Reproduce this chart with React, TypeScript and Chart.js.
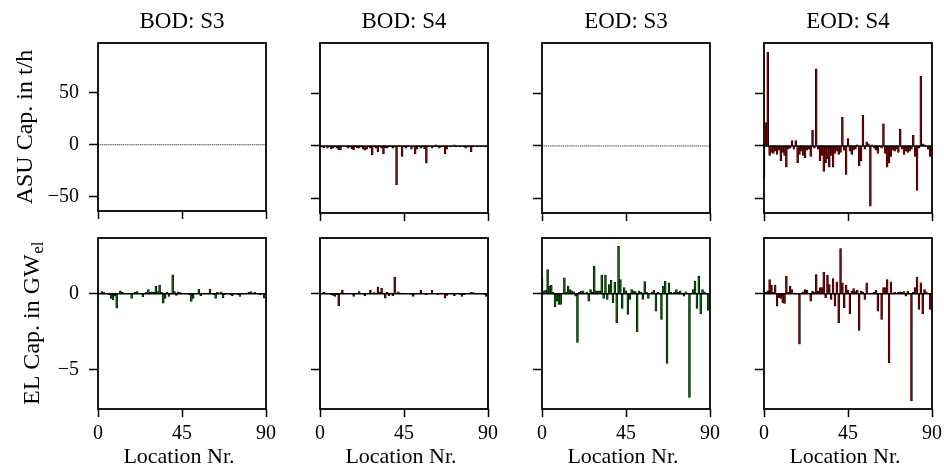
import React, { useEffect, useRef } from 'react';
import { Chart, registerables } from 'chart.js';

Chart.register(...registerables);

const FONT = '"Liberation Serif", "Times New Roman", Times, serif';

// ---------- data ----------
const locations = [
  0, 1, 2, 3, 4, 5, 6, 7, 8, 9, 10, 11, 12, 13, 14, 15, 16, 17, 18, 19,
  20, 21, 22, 23, 24, 25, 26, 27, 28, 29, 30, 31, 32, 33, 34, 35, 36, 37, 38, 39,
  40, 41, 42, 43, 44, 45, 46, 47, 48, 49, 50, 51, 52, 53, 54, 55, 56, 57, 58, 59,
  60, 61, 62, 63, 64, 65, 66, 67, 68, 69, 70, 71, 72, 73, 74, 75, 76, 77, 78, 79,
  80, 81, 82, 83, 84, 85, 86, 87, 88, 89,
];

const columnTitles = ['BOD: S3', 'BOD: S4', 'EOD: S3', 'EOD: S4'];
const asuAxisTitle = 'ASU Cap. in t/h';
const elAxisTitle = 'EL Cap. in GW';
const elAxisSubscript = 'el';
const xAxisTitle = 'Location Nr.';

const xTickValues = [0, 45, 90];
const asuTickValues = [-50, 0, 50];
const elTickValues = [-5, 0];
const xRange = [0, 90];
const asuRange = [-63.5, 97.5];
const elRange = [-7.6, 3.68];

const asuBodS3 = [
  0, 0, 0, 0, 0, 0, 0, 0, 0, 0, 0, 0, 0, 0, 0, 0, 0, 0, 0, 0,
  0, 0, 0, 0, 0, 0, 0, 0, 0, 0, 0, 0, 0, 0, 0, 0, 0, 0, 0, 0,
  0, 0, 0, 0, 0, 0, 0, 0, 0, 0, 0, 0, 0, 0, 0, 0, 0, 0, 0, 0,
  0, 0, 0, 0, 0, 0, 0, 0, 0, 0, 0, 0, 0, 0, 0, 0, 0, 0, 0, 0,
  0, 0, 0, 0, 0, 0, 0, 0, 0, 0,
];
const asuBodS4 = [
  -1, -1, -1.5, 0, -2, -1, -3, -2, -1, -2,
  -3.5, -3.8, -1, 0, -1, -2, -1, -2.5, -3.8, -1,
  -1.5, -2, -1, -3, -4, -3, -1, -2, -8.5, -1,
  -2, -5.4, -1, -2, -7.6, -1.5, -2, -1, -1, -2,
  -1, -37, -1, 0, -10, -1, -2, -1, 0, -3,
  -1, -7.6, -3, -1, -2, -1, -2.5, -16.4, -1, 0,
  -2, -1, 1, -1, -2, -1, -1, -7.6, -3, 0,
  -1, 0, 1, -1, 0, -1, 0, -1, -2, -1,
  -1, -5.4, -1, 0, -1, 0, -1, 0, -1, -1,
];
const asuEodS3 = [
  0, 0, 0, 0, 0, 0, 0, 0, 0, 0, 0, 0, 0, 0, 0, 0, 0, 0, 0, 0,
  0, 0, 0, 0, 0, 0, 0, 0, 0, 0, 0, 0, 0, 0, 0, 0, 0, 0, 0, 0,
  0, 0, 0, 0, 0, 0, 0, 0, 0, 0, 0, 0, 0, 0, 0, 0, 0, 0, 0, 0,
  0, 0, 0, 0, 0, 0, 0, 0, 0, 0, 0, 0, 0, 0, 0, 0, 0, 0, 0, 0,
  0, 0, 0, 0, 0, 0, 0, 0, 0, 0,
];
const asuEodS4 = [
  -29, 22, 89, -9, -6, -7, -5, -8, -4, -14,
  -6, -9, -20, -3, -2, 5, -3, 5, -16, -8,
  -5, -9, -11, -4, -3, -10, 15, -2, 73, -3,
  -14, -9, -24, -16, -12, -20, -9, -20, -7, -5,
  -8, -6, 27, -4, -27, 7, -5, -8, -4, -3,
  1, -19, -14, 29, -3, 4, 2, -57, 1, -2,
  -4, -7, -1, -2, 21, -7, -20, -16, -10, -4,
  -5, -3, -6, 16, -3, -8, -5, -6, -5, -3,
  10, -10, -42, -2, 66, 2, 1, -1, -3, -10,
];

const elBodS3 = [
  0, 0.05, 0.15, 0.1, 0.05, 0, -0.05, -0.3, -0.4, -0.15,
  -0.95, 0.05, 0.2, 0.1, 0.05, 0.05, 0.03, 0, -0.3, 0.05,
  0.1, 0.15, 0.05, 0, -0.2, 0.05, 0.1, 0.28, 0.1, 0.12,
  0.1, 0.5, 0.15, 0.58, 0.1, -0.62, -0.3, 0.1, -0.18, 0.05,
  1.25, 0.15, -0.1, 0.12, 0.08, 0.05, 0.03, 0, 0.02, -0.05,
  -0.5, -0.3, 0.05, 0.02, 0.3, -0.13, 0.02, 0.05, 0, 0.02,
  0.3, 0.05, -0.05, -0.3, 0.1, 0.05, 0.13, -0.25, -0.05, 0.02,
  0, -0.05, -0.13, 0, 0.02, -0.05, -0.18, 0, 0.02, 0.05,
  0.05, 0.1, 0.15, 0.05, 0.09, 0.03, 0, -0.05, 0.02, -0.28,
];
const elBodS4 = [
  0, 0.05, 0.1, 0.05, 0.03, 0, -0.05, -0.1, -0.17, -0.05,
  -0.8, 0.05, 0.22, 0.05, 0.03, 0.05, 0, 0.02, -0.17, 0.03,
  0.05, 0.15, 0.03, 0, -0.13, 0.03, 0.05, 0.22, 0.05, 0.08,
  0.05, 0.44, 0.1, 0.37, 0.05, -0.28, 0.1, -0.13, 0.05, -0.13,
  1.1, 0.05, 0.13, 0.05, 0.03, 0.05, 0, 0.02, 0, -0.03,
  -0.17, 0.02, 0.03, 0, 0.22, 0.03, 0.02, -0.05, 0, 0.02,
  0.22, 0.03, 0, -0.03, 0.02, 0.05, 0.02, -0.28, -0.1, 0.02,
  0, 0.02, -0.13, 0, 0.02, -0.03, -0.17, -0.05, 0.02, 0.03,
  0.05, 0.1, 0.08, 0.03, 0.05, 0.03, 0.02, 0, -0.03, -0.17,
];
const elEodS3 = [
  1.1, 0.2, 0.25, 1.6, 0.5, 0.55, 0.1, -0.86, -0.48, -0.7,
  -0.7, 0.05, 1.05, 0.1, 0.5, 0.28, 0.2, 0.13, -0.15, -3.2,
  0.1, 0.17, 0.2, 0.05, 0.1, -0.48, 0.28, 0.1, 1.82, 0.2,
  0.17, 0.2, 1.23, -0.3, 1.23, -0.37, 0.6, 0.88, -0.6, 0.77,
  -1.9, 3.14, 0.94, -0.97, 0.4, 0.2, -1.36, -0.37, 0.28, 0.2,
  0.15, -2.52, 0.17, 0.1, -0.37, 0.8, 0.1, -0.3, 0.05, 0.13,
  0.22, -1.14, 0.1, 0.05, -1.69, 0.5, 0.83, -4.6, 0.72, 0.1,
  0.05, 0.1, 0.28, 0.1, 0.2, 0.05, -0.15, 0.13, 0.05, -6.84,
  0.05, 0.28, 0.83, -0.97, 1.16, -1.32, 0.28, 0.13, 0.05, -1.1,
];
const elEodS4 = [
  0.05, 0.1, 0.2, 0.94, 0.57, 0.1, 0.57, -0.81, -0.26, -0.3,
  -0.59, -0.64, 1.16, 0.1, 0.5, 0.28, 0.05, 0.05, 0.02, -3.33,
  0.05, 0.13, 0.28, 0.22, 0.05, -0.48, 0.17, 0.1, 1.27, 0.17,
  0.4, 0.4, 1.43, -0.26, 1.23, 0.61, -0.37, 1.01, -0.81, 0.79,
  -1.91, 2.98, 0.72, -0.92, 0.57, 0.22, -1.32, 0.17, 0.35, 0.15,
  0.24, -2.41, 0.17, 0.13, -0.37, 0.72, 0.05, 0.02, 0.05, 0.1,
  0.22, -1.14, 0.05, -1.69, 0.4, 0.4, 0.94, -4.54, 0.79, 0.05,
  0.1, 0.05, 0.1, 0.13, 0.1, 0.15, -0.15, 0.17, 0.05, -7.06,
  0.1, 0.4, 1.1, -1.03, 0.72, -1.32, 0.28, 0.13, 0.05, -1.03,
];

const RED = '#8b0000';
const GREEN = '#006400';

const asuSeries = [asuBodS3, asuBodS4, asuEodS3, asuEodS4];
const elSeries = [elBodS3, elBodS4, elEodS3, elEodS4];
const columnColors = [GREEN, RED, GREEN, RED];

// ---------- layout ----------
const COL_LEFT = [98, 320, 542, 764];
const PANEL_W = 168;
const ROW_TOP = [43, 238];
const ROW_H = [170, 171];
const YW = 50;

const fmt = (v: number) => (v < 0 ? '\u2212' + Math.abs(v) : String(v));

function makeDecor(row: number, col: number, allZero: boolean) {
  return {
    id: 'decor' + row + col,
    afterDatasetsDraw(chart: any) {
      const { ctx, chartArea: a, scales } = chart;
      const y0 = scales.y.getPixelForValue(0);
      ctx.save();
      ctx.beginPath();
      ctx.strokeStyle = allZero ? '#333' : '#000';
      ctx.lineWidth = allZero ? 0.9 : 1.5;
      ctx.setLineDash(allZero ? [1.3, 0.6] : []);
      ctx.moveTo(a.left, y0);
      ctx.lineTo(a.right, y0);
      ctx.stroke();
      ctx.restore();
    },
    afterDraw(chart: any) {
      const { ctx, chartArea: a } = chart;
      ctx.save();
      ctx.strokeStyle = '#000';
      ctx.lineWidth = 1.8;
      ctx.strokeRect(a.left, a.top, a.right - a.left, a.bottom - a.top);
      ctx.fillStyle = '#000';
      ctx.textBaseline = 'alphabetic';
      ctx.textAlign = 'center';
      if (row === 0) {
        ctx.font = `23px ${FONT}`;
        ctx.fillText(columnTitles[col], (a.left + a.right) / 2, a.top - 15);
      } else {
        ctx.font = `22px ${FONT}`;
        ctx.fillText(xAxisTitle, (a.left + a.right) / 2 - 3, a.bottom + 54);
      }
      if (col === 0) {
        const cy = (a.top + a.bottom) / 2;
        if (row === 0) {
          ctx.font = `24px ${FONT}`;
          ctx.translate(a.left - 66, cy);
          ctx.rotate(-Math.PI / 2);
          ctx.textAlign = 'center';
          ctx.fillText(asuAxisTitle, 0, 0);
        } else {
          ctx.translate(a.left - 59.5, cy);
          ctx.rotate(-Math.PI / 2);
          ctx.textAlign = 'left';
          ctx.font = `24px ${FONT}`;
          const wMain = ctx.measureText(elAxisTitle).width;
          ctx.font = `17px ${FONT}`;
          const wSub = ctx.measureText(elAxisSubscript).width;
          const start = -(wMain + wSub) / 2;
          ctx.font = `24px ${FONT}`;
          ctx.fillText(elAxisTitle, start, 0);
          ctx.font = `17px ${FONT}`;
          ctx.fillText(elAxisSubscript, start + wMain + 0.5, 4);
        }
      }
      ctx.restore();
    },
  };
}

function Panel({ row, col }: { row: number; col: number }) {
  const ref = useRef<HTMLCanvasElement>(null);
  const ax = COL_LEFT[col];
  const ay = ROW_TOP[row];
  const ah = ROW_H[row];
  const cx = col === 0 ? 0 : ax - 60;
  const cw = ax + PANEL_W + 24 - cx;
  const cy = row === 0 ? 0 : ay - 26;
  const ch = row === 0 ? ay + ah + 20 : 475 - cy;
  const XH = row === 0 ? 10 : 40;

  useEffect(() => {
    const values = row === 0 ? asuSeries[col] : elSeries[col];
    const allZero = values.every((v) => v === 0);
    const yRange = row === 0 ? asuRange : elRange;
    const yTicks = row === 0 ? asuTickValues : elTickValues;
    const chart = new Chart(ref.current as HTMLCanvasElement, {
      type: 'bar',
      data: {
        datasets: [
          {
            data: values.map((v, i) => ({ x: locations[i], y: v })),
            backgroundColor: columnColors[col],
            borderColor: '#000',
            borderWidth: 0.6,
            borderSkipped: false,
            inflateAmount: 0.35,
            barPercentage: 1.0,
            categoryPercentage: 1.0,
          } as any,
        ],
      },
      options: {
        responsive: false,
        animation: false,
        events: [],
        layout: {
          padding: {
            left: ax - cx - YW,
            top: ay - cy,
            right: 24,
            bottom: ch - (ay - cy) - ah - XH,
          },
        },
        plugins: {
          legend: { display: false },
          tooltip: { enabled: false },
          title: { display: false },
        },
        scales: {
          x: {
            type: 'linear',
            min: xRange[0],
            max: xRange[1],
            offset: false,
            grid: {
              offset: false,
              drawOnChartArea: false,
              drawTicks: true,
              tickLength: 8,
              tickWidth: 1.5,
              tickColor: '#000',
            },
            border: { display: false },
            ticks: {
              display: row === 1,
              autoSkip: false,
              maxRotation: 0,
              color: '#000',
              padding: 5,
              font: { family: FONT, size: 20 },
              callback: (v: any) => fmt(Number(v)),
            },
            afterBuildTicks: (s: any) => {
              s.ticks = xTickValues.map((v) => ({ value: v }));
            },
            afterFit: (s: any) => {
              s.height = XH;
            },
          },
          y: {
            type: 'linear',
            min: yRange[0],
            max: yRange[1],
            grid: {
              drawOnChartArea: false,
              drawTicks: true,
              tickLength: 9,
              tickWidth: 1.5,
              tickColor: '#000',
            },
            border: { display: false },
            ticks: {
              display: col === 0,
              autoSkip: false,
              color: '#000',
              padding: 10,
              font: { family: FONT, size: 20 },
              callback: (v: any) => fmt(Number(v)),
            },
            afterBuildTicks: (s: any) => {
              s.ticks = yTicks.map((v) => ({ value: v }));
            },
            afterFit: (s: any) => {
              s.width = YW;
            },
          },
        },
      } as any,
      plugins: [makeDecor(row, col, allZero)],
    });
    return () => chart.destroy();
  }, []);

  return (
    <canvas
      ref={ref}
      width={cw}
      height={ch}
      style={{ position: 'absolute', left: cx, top: cy, width: cw, height: ch }}
    />
  );
}

export default function App() {
  const panels = [];
  for (let r = 0; r < 2; r++) {
    for (let c = 0; c < 4; c++) {
      panels.push(<Panel key={`${r}-${c}`} row={r} col={c} />);
    }
  }
  return (
    <div
      style={{
        position: 'absolute',
        left: 0,
        top: 0,
        width: 944,
        height: 475,
        background: '#fff',
        overflow: 'hidden',
      }}
    >
      {panels}
    </div>
  );
}
